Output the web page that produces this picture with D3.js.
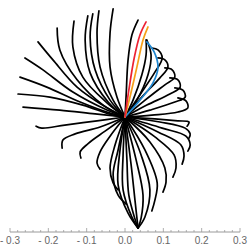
<!DOCTYPE html>
<html><head><meta charset="utf-8">
<script src="https://cdn.jsdelivr.net/npm/d3@7/dist/d3.min.js"></script>
<style>body{margin:0;background:#fff}svg{display:block}</style>
</head><body><svg id="c" width="249" height="248"></svg>
<script>
const majorTicks = [-0.3,-0.2,-0.1,0,0.1,0.2,0.3];
const tickLabels = ["- 0.3","- 0.2","- 0.1","0.0","0.1","0.2","0.3"];

// black trajectories, each a list of [x, y] points
const blackCurves = [
  // upper-left fan
  [[0,0],[-0.021,0.052],[-0.039,0.130],[-0.039,0.219],[-0.031,0.282]],
  [[0,0],[-0.031,0.044],[-0.065,0.130],[-0.073,0.219],[-0.068,0.277]],
  [[0,0],[-0.039,0.044],[-0.078,0.123],[-0.091,0.209],[-0.084,0.269]],
  [[0,0],[-0.044,0.039],[-0.091,0.115],[-0.104,0.201],[-0.097,0.264]],
  [[0,0],[-0.047,0.037],[-0.110,0.104],[-0.136,0.183],[-0.133,0.250]],
  [[0,0],[-0.057,0.031],[-0.125,0.097],[-0.170,0.175],[-0.177,0.232]],
  [[0,0],[-0.047,0.024],[-0.125,0.078],[-0.188,0.149],[-0.227,0.196]],
  [[0,0],[-0.047,0.018],[-0.136,0.065],[-0.214,0.123],[-0.261,0.154]],
  [[0,0],[-0.039,0.010],[-0.117,0.039],[-0.204,0.078],[-0.274,0.104]],
  [[0,0],[-0.031,0.005],[-0.110,0.031],[-0.196,0.052],[-0.279,0.060]],
  // left / lower-left
  [[0,0],[-0.078,0.008],[-0.170,0.018],[-0.266,0.026]],
  [[0,0],[-0.073,-0.010],[-0.157,-0.021],[-0.217,-0.029],[-0.232,-0.024]],
  [[0,0],[-0.065,-0.026],[-0.130,-0.044],[-0.162,-0.060],[-0.164,-0.081]],
  [[0,0],[-0.052,-0.037],[-0.097,-0.070],[-0.117,-0.091],[-0.115,-0.107]],
  [[0,0],[-0.039,-0.050],[-0.065,-0.091],[-0.073,-0.120],[-0.065,-0.136]],
  [[0,0],[-0.026,-0.073],[-0.039,-0.133],[-0.031,-0.172],[-0.018,-0.190]],
  [[0,0],[-0.018,-0.086],[-0.031,-0.151],[-0.018,-0.204],[0.003,-0.227]],
  // downward, converging
  [[0,0],[-0.013,-0.086],[-0.018,-0.177],[0.008,-0.251],[0.034,-0.290]],
  [[0,0],[-0.005,-0.099],[-0.005,-0.190],[0.018,-0.261],[0.034,-0.290]],
  [[0,0],[0.005,-0.112],[0.010,-0.204],[0.026,-0.266],[0.034,-0.290]],
  [[0,0],[0.016,-0.125],[0.026,-0.217],[0.034,-0.290]],
  [[0,0],[0.029,-0.112],[0.047,-0.204],[0.042,-0.264],[0.034,-0.290]],
  [[0,0],[0.042,-0.099],[0.065,-0.190],[0.052,-0.261],[0.034,-0.290]],
  // lower-right
  [[0,0],[0.052,-0.086],[0.084,-0.172],[0.078,-0.217],[0.070,-0.245]],
  [[0,0],[0.065,-0.065],[0.104,-0.133],[0.107,-0.170],[0.099,-0.196]],
  [[0,0],[0.078,-0.052],[0.128,-0.099],[0.133,-0.133],[0.125,-0.157]],
  [[0,0],[0.086,-0.039],[0.146,-0.073],[0.154,-0.102],[0.149,-0.123]],
  [[0,0],[0.097,-0.029],[0.159,-0.050],[0.170,-0.073],[0.164,-0.089]],
  [[0,0],[0.091,-0.013],[0.157,-0.029],[0.170,-0.044],[0.167,-0.055]],
  // right, looping
  [[0,0],[0.078,-0.005],[0.138,-0.010],[0.167,-0.013],[0.162,-0.024]],
  [[0,0],[0.070,0.005],[0.138,0.013],[0.164,0.024],[0.159,0.042],[0.138,0.050]],
  [[0,0],[0.065,0.018],[0.130,0.039],[0.157,0.052],[0.151,0.070],[0.130,0.076]],
  [[0,0],[0.057,0.031],[0.117,0.060],[0.144,0.078],[0.138,0.097],[0.117,0.102]],
  [[0,0],[0.050,0.042],[0.104,0.084],[0.130,0.104],[0.123,0.123],[0.104,0.128]],
  [[0,0],[0.042,0.050],[0.091,0.102],[0.112,0.130],[0.104,0.149],[0.086,0.154]],
  [[0,0],[0.037,0.055],[0.078,0.117],[0.097,0.154],[0.086,0.175],[0.070,0.180]],
  [[0,0],[0.031,0.044],[0.060,0.110],[0.068,0.162],[0.057,0.201]],
  [[0,0],[0.021,0.044],[0.044,0.110],[0.055,0.162],[0.055,0.201]],
  // near-vertical, left of the red one
  [[0,0],[0.003,0.057],[0.008,0.149],[0.018,0.214],[0.034,0.253]]
];
const redCurve    = [[0,0],[0.010,0.070],[0.024,0.154],[0.039,0.214],[0.055,0.248]];
const orangeCurve = [[0,0],[0.013,0.052],[0.031,0.130],[0.047,0.201],[0.060,0.235]];
const blueCurve   = [[0,0],[0.039,0.044],[0.073,0.089],[0.086,0.130],[0.076,0.170],[0.057,0.196]];

const svg = d3.select("#c");
const x = d3.scaleLinear().domain([-0.3, 0.3]).range([10, 240]);
const y = d3.scaleLinear().domain([-0.3, 0.3]).range([232, 2]);

const line = d3.line().x(d => x(d[0])).y(d => y(d[1])).curve(d3.curveCatmullRom.alpha(0.5));

const g = svg.append("g").attr("fill", "none").attr("stroke-width", 1.7)
  .attr("stroke-linecap", "round").attr("stroke-linejoin", "round");
g.selectAll("path.k").data(blackCurves).join("path").attr("class", "k")
  .attr("stroke", "#000").attr("d", line);
[[blueCurve, "#1f86cf"], [orangeCurve, "#f6a01a"], [redCurve, "#ec2233"]].forEach(([c, col]) => {
  g.append("path").attr("stroke", col).attr("d", line(c));
});

// axis
const axisY = 232;
const ax = svg.append("g");
ax.append("line").attr("x1", x(-0.3)).attr("x2", x(0.3)).attr("y1", axisY).attr("y2", axisY)
  .attr("stroke", "#9a9a9a").attr("stroke-width", 1);
const minor = d3.range(-15, 16).filter(i => i % 5 !== 0).map(i => i * 0.02);
ax.selectAll("line.mi").data(minor).join("line").attr("class", "mi")
  .attr("x1", d => x(d)).attr("x2", d => x(d)).attr("y1", axisY).attr("y2", axisY - 2)
  .attr("stroke", "#9a9a9a").attr("stroke-width", 0.8);
ax.selectAll("line.ma").data(majorTicks).join("line").attr("class", "ma")
  .attr("x1", d => x(d)).attr("x2", d => x(d)).attr("y1", axisY).attr("y2", axisY - 4)
  .attr("stroke", "#9a9a9a").attr("stroke-width", 0.8);
ax.selectAll("text").data(majorTicks).join("text")
  .attr("x", d => x(d)).attr("y", axisY + 12)
  .attr("text-anchor", "middle").attr("font-family", "Liberation Sans, Arial, sans-serif")
  .attr("font-size", 10).attr("fill", "#666")
  .text((d, i) => tickLabels[i]);
</script></body></html>
